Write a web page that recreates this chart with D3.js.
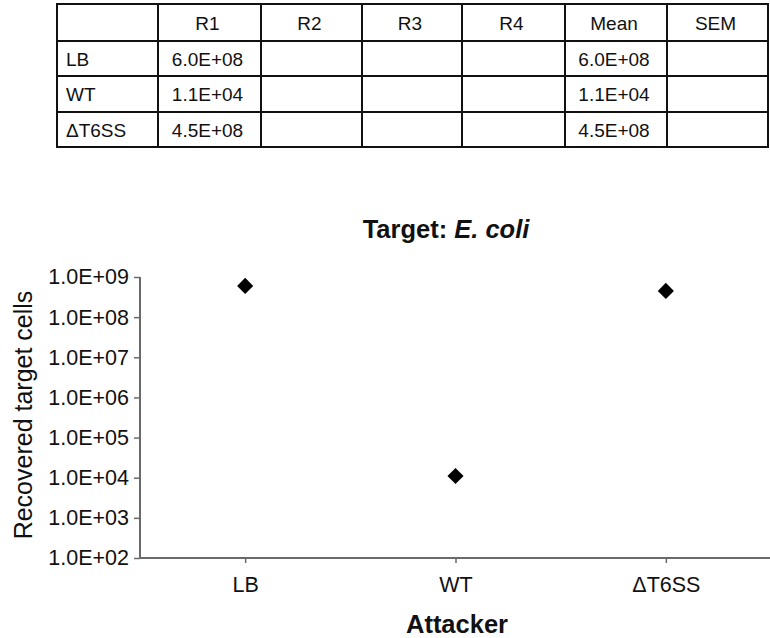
<!DOCTYPE html>
<html>
<head>
<meta charset="utf-8">
<script src="https://cdn.jsdelivr.net/npm/d3@7"></script>
<style>
  html, body { margin: 0; padding: 0; background: #fff; }
  svg { display: block; font-family: "Liberation Sans", Arial, sans-serif; }
</style>
</head>
<body>
<svg id="chart" width="770" height="638"></svg>
<script>
// Recovered target cells per attacker strain
const attackers = ["LB", "WT", "\u0394T6SS"];
const meanCells = [6.0e8, 1.1e4, 4.5e8];
const replicateR1 = [6.0e8, 1.1e4, 4.5e8];
const tableHeaders = ["", "R1", "R2", "R3", "R4", "Mean", "SEM"];
const yTickValues = [1e2, 1e3, 1e4, 1e5, 1e6, 1e7, 1e8, 1e9];

const fmtSci = v => {
  const e = Math.floor(Math.log10(v));
  const m = v / Math.pow(10, e);
  return m.toFixed(1) + "E+" + String(e).padStart(2, "0");
};

const svg = d3.select("#chart");

// ---- data table ----
const colEdges = [57, 158, 261, 362, 462, 565, 667, 768];
const rowEdges = [4, 41, 76, 112, 147];
const table = svg.append("g");

const rows = attackers.map((a, i) => [a, fmtSci(replicateR1[i]), "", "", "", fmtSci(meanCells[i]), ""]);
const cells = [tableHeaders, ...rows];

rowEdges.forEach(y => table.append("line")
  .attr("x1", colEdges[0] - 1).attr("x2", colEdges[colEdges.length - 1] + 1)
  .attr("y1", y).attr("y2", y)
  .attr("stroke", "#111").attr("stroke-width", 2));
colEdges.forEach(x => table.append("line")
  .attr("x1", x).attr("x2", x)
  .attr("y1", rowEdges[0]).attr("y2", rowEdges[rowEdges.length - 1])
  .attr("stroke", "#111").attr("stroke-width", 2));

cells.forEach((row, r) => {
  row.forEach((txt, c) => {
    if (!txt) return;
    const isLabel = c === 0;
    const x = isLabel ? colEdges[0] + 9 : (colEdges[c] + colEdges[c + 1]) / 2 - 2;
    const yMid = (rowEdges[r] + rowEdges[r + 1]) / 2;
    table.append("text")
      .attr("x", x).attr("y", yMid + 7)
      .attr("text-anchor", isLabel ? "start" : "middle")
      .attr("font-size", 19).attr("fill", "#111")
      .text(txt);
  });
});

// ---- scatter plot ----
const x = d3.scalePoint().domain(attackers).range([140, 771]).padding(0.5);
const y = d3.scaleLog().domain([1e2, 1e9]).range([558, 277]);
const axisColor = "#6a6a6a";

const yAxis = svg.append("g")
  .attr("transform", "translate(140,0)")
  .call(d3.axisLeft(y).tickValues(yTickValues).tickFormat(fmtSci).tickSize(6).tickPadding(5));
yAxis.select(".domain").attr("stroke", axisColor).attr("stroke-width", 2)
  .attr("d", `M0,${y(1e9)}V${y(1e2)}`);
yAxis.selectAll(".tick line").attr("stroke", axisColor).attr("stroke-width", 1.5);
yAxis.selectAll(".tick text").attr("font-size", 21.5).attr("fill", "#111")
  .attr("font-family", "Liberation Sans, Arial, sans-serif");

const xAxis = svg.append("g")
  .attr("transform", "translate(0,558)")
  .call(d3.axisBottom(x).tickSize(5).tickPadding(14));
xAxis.select(".domain").attr("stroke", axisColor).attr("stroke-width", 2)
  .attr("d", "M139,0H770");
xAxis.selectAll(".tick line").attr("stroke", axisColor).attr("stroke-width", 1.5);
xAxis.selectAll(".tick text").attr("font-size", 21.5).attr("fill", "#111")
  .attr("font-family", "Liberation Sans, Arial, sans-serif");

// mean markers as diamonds
svg.append("g").selectAll("path")
  .data(attackers.map((a, i) => ({ a, v: meanCells[i] })))
  .join("path")
  .attr("d", d3.symbol(d3.symbolSquare, 130))
  .attr("transform", d => `translate(${x(d.a)},${y(d.v)}) rotate(45)`)
  .attr("fill", "#000");

// titles
const title = svg.append("text")
  .attr("x", 446).attr("y", 238)
  .attr("text-anchor", "middle")
  .attr("font-size", 25.5).attr("font-weight", "bold").attr("fill", "#111");
title.append("tspan").text("Target: ");
title.append("tspan").attr("font-style", "italic").text("E. coli");

svg.append("text")
  .attr("x", 457).attr("y", 633)
  .attr("text-anchor", "middle")
  .attr("font-size", 25.5).attr("font-weight", "bold").attr("fill", "#111")
  .text("Attacker");

svg.append("text")
  .attr("transform", "translate(32,415) rotate(-90)")
  .attr("text-anchor", "middle")
  .attr("font-size", 25).attr("fill", "#111")
  .text("Recovered target cells");
</script>
</body>
</html>
